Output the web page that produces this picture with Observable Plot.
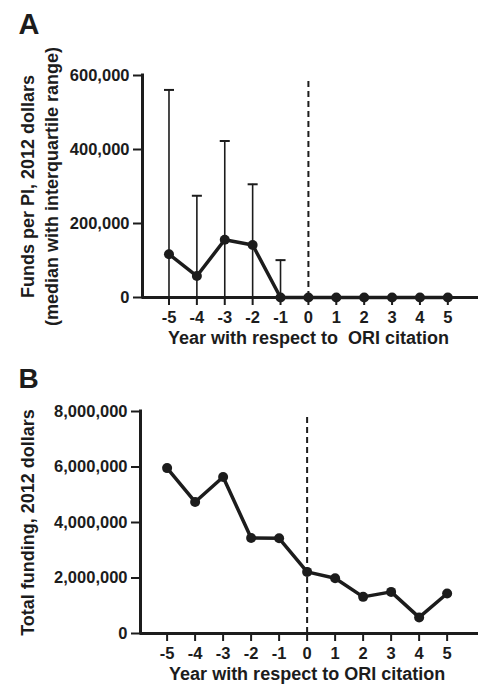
<!DOCTYPE html>
<html>
<head>
<meta charset="utf-8">
<script src="https://cdn.jsdelivr.net/npm/d3@7"></script>
<script src="https://cdn.jsdelivr.net/npm/@observablehq/plot@0.6"></script>
<style>
  html, body { margin: 0; padding: 0; background: white; }
  #chart svg { display: block; }
</style>
</head>
<body>
<div id="chart"></div>
<script>
// ---- Data ----
const years = [-5, -4, -3, -2, -1, 0, 1, 2, 3, 4, 5];
// Panel A: funds per PI (median) and upper quartile
const fundsMedian = [117000, 58000, 156000, 142000, 0, 0, 0, 0, 0, 0, 0];
const fundsUpper = [561000, 275000, 423000, 306000, 101000, null, null, null, null, null, null];
// Panel B: total funding
const totalFunding = [5960000, 4740000, 5640000, 3440000, 3430000, 2220000, 1990000, 1320000, 1500000, 580000, 1440000];
// Ticks
const yTicksA = [0, 200000, 400000, 600000];
const yTicksB = [0, 2000000, 4000000, 6000000, 8000000];
const xLabelA = "Year with respect to  ORI citation";
const xLabelB = "Year with respect to ORI citation";
const yLabelA1 = "Funds per PI, 2012 dollars";
const yLabelA2 = "(median with interquartile range)";
const yLabelB = "Total funding, 2012 dollars";

const dataA = years.map((x, i) => ({x, median: fundsMedian[i], upper: fundsUpper[i]}));
const errA = dataA.filter(d => d.upper != null);
const dataB = years.map((x, i) => ({x, total: totalFunding[i]}));

const ink = "#1c1c1c";
const font = "'Liberation Sans', Arial, Helvetica, sans-serif";
const style = {fontFamily: font, fontWeight: "bold", fontSize: "16px", color: ink, background: "white", overflow: "visible"};
const fmt = d3.format(",");
const capHalf = 0.18;
const tickFs = 16.5;
const titleFs = 18;

const A = Plot.plot({
  width: 478, height: 350,
  marginLeft: 142, marginRight: 0, marginTop: 75, marginBottom: 53,
  x: {domain: [-5.95, 6.1]},
  y: {domain: [0, 600000]},
  style,
  marks: [
    Plot.axisX({ticks: years, tickSize: 8, tickPadding: 6, strokeWidth: 2, tickFormat: d => String(d), label: null, fontSize: tickFs}),
    Plot.axisY({ticks: yTicksA, tickSize: 9, tickPadding: 4, strokeWidth: 2, tickFormat: d => fmt(d), label: null, fontSize: tickFs}),
    Plot.ruleX([0], {y1: 0, y2: 586000, stroke: ink, strokeWidth: 2, strokeDasharray: "6,4"}),
    Plot.ruleX(errA, {x: "x", y1: 0, y2: "upper", stroke: ink, strokeWidth: 1.6}),
    Plot.link(errA, {x1: d => d.x - capHalf, x2: d => d.x + capHalf, y1: "upper", y2: "upper", stroke: ink, strokeWidth: 2}),
    Plot.ruleX([-5.95], {stroke: ink, strokeWidth: 3, strokeLinecap: "square"}),
    Plot.ruleY([0], {stroke: ink, strokeWidth: 3}),
    Plot.line(dataA, {x: "x", y: "median", stroke: ink, strokeWidth: 3.5}),
    Plot.dot(dataA, {x: "x", y: "median", r: 5, fill: ink}),
    Plot.text([yLabelA1], {text: d => d, frameAnchor: "left", textAnchor: "middle", lineAnchor: "middle", rotate: -90, dx: -114, fontSize: titleFs, fill: ink}),
    Plot.text([yLabelA2], {text: d => d, frameAnchor: "left", textAnchor: "middle", lineAnchor: "middle", rotate: -90, dx: -90, fontSize: titleFs, fill: ink}),
    Plot.text([xLabelA], {text: d => d, x: [0], frameAnchor: "bottom", dy: 41, lineAnchor: "middle", fontSize: titleFs, fill: ink}),
    Plot.text(["A"], {text: d => d, frameAnchor: "top-left", dx: -124, dy: -62, textAnchor: "start", lineAnchor: "top", fontSize: 29, fill: ink})
  ]
});

const B = Plot.plot({
  width: 478, height: 335,
  marginLeft: 140, marginRight: 0, marginTop: 61, marginBottom: 52,
  x: {domain: [-5.95, 6.12]},
  y: {domain: [0, 8000000]},
  style,
  marks: [
    Plot.axisX({ticks: years, tickSize: 8, tickPadding: 6, strokeWidth: 2, tickFormat: d => String(d), label: null, fontSize: tickFs}),
    Plot.axisY({ticks: yTicksB, tickSize: 9, tickPadding: 4, strokeWidth: 2, tickFormat: d => fmt(d), label: null, fontSize: tickFs}),
    Plot.ruleX([0], {y1: 0, y2: 7820000, stroke: ink, strokeWidth: 2, strokeDasharray: "6,4"}),
    Plot.ruleX([-5.95], {stroke: ink, strokeWidth: 3, strokeLinecap: "square"}),
    Plot.ruleY([0], {stroke: ink, strokeWidth: 3}),
    Plot.line(dataB, {x: "x", y: "total", stroke: ink, strokeWidth: 3.5}),
    Plot.dot(dataB, {x: "x", y: "total", r: 5, fill: ink}),
    Plot.text([yLabelB], {text: d => d, frameAnchor: "left", textAnchor: "middle", lineAnchor: "middle", rotate: -90, dx: -112, fontSize: titleFs, fill: ink}),
    Plot.text([xLabelB], {text: d => d, x: [0], frameAnchor: "bottom", dy: 41, lineAnchor: "middle", fontSize: titleFs, fill: ink}),
    Plot.text(["B"], {text: d => d, frameAnchor: "top-left", dx: -122, dy: -43, textAnchor: "start", lineAnchor: "top", fontSize: 28, fill: ink})
  ]
});

document.getElementById("chart").append(A, B);
</script>
</body>
</html>
